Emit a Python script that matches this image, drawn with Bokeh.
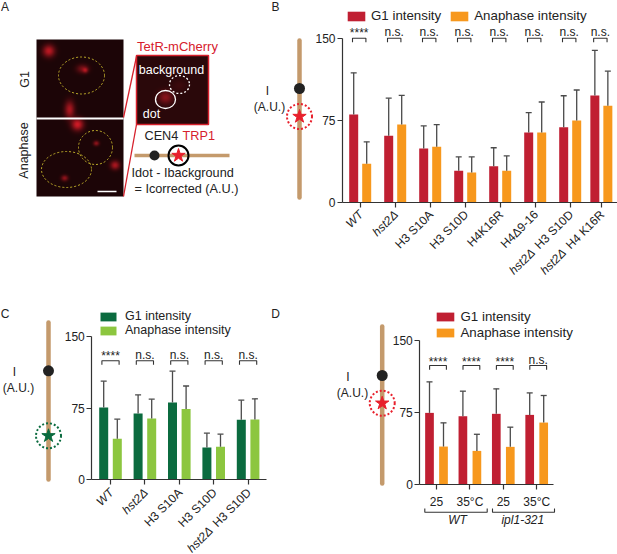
import numpy as np
from bokeh.core.properties import value
from bokeh.embed import file_html
from bokeh.models import FixedTicker, Legend, LegendItem, LinearAxis, Range1d
from bokeh.plotting import figure
from bokeh.resources import INLINE

# ---------- data ----------
b_g1 = [80.5, 61, 49.3, 28.8, 33, 64, 68.9, 98]
b_g1_err = [118.8, 95.5, 70, 41.6, 50, 82.3, 97.7, 139.3]
b_an = [35.2, 71.3, 51, 27.2, 28.8, 64, 75, 88.5]
b_an_err = [55.4, 98, 71.3, 41.6, 42.5, 92, 103, 120.3]
b_sig = ["****", "n.s.", "n.s.", "n.s.", "n.s.", "n.s.", "n.s.", "n.s."]
b_italic = ["WT", "hst2Δ", "", "", "", "", "hst2Δ", "hst2Δ"]
b_roman = ["", "", "H3 S10A", "H3 S10D", "H4K16R", "H4Δ9-16", " H3 S10D", " H4 K16R"]

c_g1 = [75.5, 69.3, 80.7, 33.8, 62.6]
c_g1_err = [103, 88.7, 113.5, 48.7, 83.2]
c_an = [42.8, 64, 74, 34.5, 63]
c_an_err = [63.3, 84.2, 98, 47.7, 84.6]
c_sig = ["****", "n.s.", "n.s.", "n.s.", "n.s."]
c_italic = ["WT", "hst2Δ", "", "", "hst2Δ"]
c_roman = ["", "", "H3 S10A", "H3 S10D", " H3 S10D"]

d_g1 = [74.3, 70.8, 73.3, 72.2]
d_g1_err = [106.6, 96.9, 99.3, 95.1]
d_an = [39.2, 34.7, 38.9, 64.2]
d_an_err = [63.9, 52, 59.4, 92.4]
d_sig = ["****", "****", "****", "n.s."]
d_ticks = ["25", "35°C", "25", "35°C"]
d_groups = ["WT", "ipl1-321"]

y_ticks = [0, 75, 150]
legend_labels = ["G1 intensity", "Anaphase intensity"]

# ---------- style ----------
FONT_NAME = "Liberation Sans"
FONT = value(FONT_NAME)
RED, ORANGE = "#c01f32", "#f7981d"
DGREEN, LGREEN = "#0b6b3f", "#8cc63f"
TAN = "#c49a6c"
INK = "#222222"
ERR = "#4a4a4a"
W, H = 617, 554

p = figure(width=W, height=H, x_range=Range1d(0, W), y_range=Range1d(H, 0),
           x_axis_location=None, y_axis_location=None, tools="",
           toolbar_location=None, output_backend="svg", min_border=0,
           outline_line_color=None, background_fill_color="white")
p.grid.visible = False
p.styles = {"position": "absolute", "left": "0px", "top": "0px"}


def label(x, y, s, size=12, color=INK, align="center", style="normal", angle=0.0):
    p.text([x], [y], text=[s], text_font=FONT, text_font_size=f"{size}px", text_color=color,
           text_align=align, text_baseline="middle", text_font_style=style, angle=angle)


def bar_panel(name, g1, g1e, an, ane, col1, col2, ax_x, y0, y150, x_first, pitch, x_end,
              bar_w, off, positions=None):
    n = len(g1)
    pos = list(range(n)) if positions is None else positions
    sy = (y0 - y150) / 150
    p.extra_y_ranges[name + "y"] = Range1d((y0 - H) / sy, y0 / sy)
    p.extra_x_ranges[name + "x"] = Range1d(-x_first / pitch, (W - x_first) / pitch)
    kw = dict(x_range_name=name + "x", y_range_name=name + "y")
    bw, of = bar_w / pitch, off / pitch
    x1 = [q - of for q in pos]
    x2 = [q + of for q in pos]
    r1 = p.vbar(x1, bw, g1, bottom=0, fill_color=col1, line_color=None, **kw)
    r2 = p.vbar(x2, bw, an, bottom=0, fill_color=col2, line_color=None, **kw)
    for xs, tops, ends in ((x1, g1, g1e), (x2, an, ane)):
        p.segment(xs, tops, xs, ends, line_color=ERR, line_width=1.3, **kw)
        p.scatter(xs, ends, marker="dash", size=6, line_color=ERR, line_width=1.3, **kw)
    ya = LinearAxis(y_range_name=name + "y", fixed_location=ax_x, bounds=(0, 150),
                    ticker=FixedTicker(ticks=y_ticks), major_tick_out=5, major_tick_in=0,
                    major_label_standoff=2, major_label_text_font=FONT_NAME,
                    major_label_text_font_size="12px", major_label_text_color=INK,
                    axis_line_color="#333333", major_tick_line_color="#333333", axis_line_width=1.2,
                    major_tick_line_width=1.2)
    p.add_layout(ya, "left")
    xa = LinearAxis(x_range_name=name + "x", y_range_name=name + "y", fixed_location=0,
                    bounds=((ax_x - x_first) / pitch, (x_end - x_first) / pitch),
                    ticker=FixedTicker(ticks=list(pos)), major_tick_out=5, major_tick_in=0,
                    major_label_text_font=FONT_NAME, major_label_text_font_size="12px",
                    major_label_text_color=INK, major_label_standoff=6,
                    axis_line_color="#333333", major_tick_line_color="#333333", axis_line_width=1.2,
                    major_tick_line_width=1.2)
    p.add_layout(xa, "below")
    return pos, r1, r2, xa, kw


def sig_marks(name, pos, sig, pitch, y_top, y_bot, half, star_y, ns_y, dx=0.0):
    for q, s in zip(pos, sig):
        c = q + dx / pitch
        h = half / pitch
        p.line([c - h, c - h, c + h, c + h], [y_bot, y_top, y_top, y_bot], line_color="#333333",
               line_width=1.1, x_range_name=name + "x")
        p.text([c], [star_y if s == "****" else ns_y], text=[s], text_font=FONT, text_font_size="12px",
               text_color=INK, text_align="center", text_baseline="middle", x_range_name=name + "x")


def rotated_labels(name, pos, italic, roman, y):
    c, s = np.cos(np.pi / 4), np.sin(np.pi / 4)
    for q, it, ro in zip(pos, italic, roman):
        shift = 54 if ro and it else 0
        if ro:
            p.text([q], [y], text=[ro.strip()], text_font=FONT, text_font_size="12px", text_color=INK,
                   text_align="right", text_baseline="middle", angle=np.pi / 4,
                   x_range_name=name + "x", x_offset=1)
        if it:
            p.text([q], [y], text=[it], text_font=FONT, text_font_size="12px", text_color=INK,
                   text_align="right", text_baseline="middle", angle=np.pi / 4, text_font_style="italic",
                   x_range_name=name + "x", x_offset=1 - shift * c, y_offset=shift * s)


def chromosome(x, y1, y2, dot_y, star_y, color, i_x, i_y, au_x, au_y):
    p.line([x, x], [y1, y2], line_color=TAN, line_width=4.5, line_cap="round")
    p.scatter([x], [dot_y], marker="circle", size=11, fill_color=INK, line_color=None)
    p.scatter([x], [star_y], marker="star", size=14, fill_color=color, line_color=color)
    p.ellipse([x], [star_y], width=25, height=25, fill_color=None, line_color=color,
              line_width=2, line_dash="2 2")
    label(i_x, i_y, "I")
    label(au_x, au_y, "(A.U.)")


def add_legend(r1, r2, loc, size, orient, spacing, gw, gh, standoff):
    items = [LegendItem(label=legend_labels[0], renderers=[r1], index=0),
             LegendItem(label=legend_labels[1], renderers=[r2], index=0)]
    lg = Legend(items=items, location=loc, orientation=orient, border_line_color=None,
                background_fill_alpha=0, padding=0, margin=0, spacing=spacing, glyph_width=gw,
                glyph_height=gh, label_standoff=standoff, label_text_font=FONT_NAME,
                label_text_font_size=f"{size}px", label_text_color=INK, label_height=10)
    p.add_layout(lg)


# ---------- panel letters ----------
for s, x, y in (("A", 4.5, 6), ("B", 275, 6), ("C", 4.5, 313), ("D", 275, 313)):
    label(x, y, s)

# ---------- panel A: micrographs ----------
yy, xx = np.mgrid[39:196:157j, 36:123:87j]
g1_blobs_x = [48, 82, 85, 69, 77, 96, 64, 115]
g1_blobs_y = [50, 68, 69.5, 109, 124, 143, 178, 165]
blob_sx = [4.2, 4.2, 1.8, 3.4, 4.2, 2, 2.4, 3.2]
blob_sy = [4.2, 3, 1.8, 6, 4.2, 1.7, 2, 3]
blob_amp = [.8, .45, .5, .72, .9, .6, .6, .72]


def micro(xx, yy, bx, by, sx, sy, amp, bg):
    v = np.zeros_like(xx)
    for a, b, c, d, e in zip(bx, by, sx, sy, amp):
        v += e * np.exp(-((xx - a) ** 2) / (2 * c * c) - ((yy - b) ** 2) / (2 * d * d))
    v = np.clip(v, 0, 1)
    h, w = xx.shape
    img = np.zeros((h, w), dtype=np.uint32)
    rgba = img.view(dtype=np.uint8).reshape((h, w, 4))
    rgba[..., 0] = (bg[0] + v * (228 - bg[0])).astype(np.uint8)
    rgba[..., 1] = (bg[1] + v * 25).astype(np.uint8)
    rgba[..., 2] = (bg[2] + v * 35).astype(np.uint8)
    rgba[..., 3] = 255
    return img


p.image_rgba(image=[micro(xx, yy, g1_blobs_x, g1_blobs_y, blob_sx, blob_sy, blob_amp, (28, 5, 7))],
             x=36, y=39, dw=87, dh=157)
yy2, xx2 = np.mgrid[55:124:69j, 136:208:72j]
p.image_rgba(image=[micro(xx2, yy2, [165, 179], [97, 85], [5, 5], [4.5, 4], [.5, .1], (42, 8, 10))],
             x=136, y=55, dw=72, dh=69)
p.line([36, 123], [118, 118], line_color="white", line_width=2)
p.line([97, 116], [191, 191], line_color="white", line_width=1.5)
p.rect([172], [89.5], width=72, height=69, fill_color=None, line_color="#d6202c", line_width=1.5)
p.line([123, 136], [117, 56], line_color="#d6202c", line_width=1.3)
p.line([123, 136], [196, 124], line_color="#d6202c", line_width=1.3)
p.ellipse([81, 66, 95], [75, 169, 147], width=[46, 50, 34], height=[37, 36, 34], fill_color=None,
          line_color="#bfae2a", line_width=1, line_dash="2 2")
p.ellipse([165], [99], width=20, height=18, fill_color=None, line_color="white", line_width=1.3)
p.ellipse([179], [84], width=20, height=18, fill_color=None, line_color="white", line_width=1.3, line_dash="2 2")
label(177, 46, "TetR-mCherry", size=13, color="#d6202c")
label(171, 69, "background", size=12.5, color="white")
label(151, 113, "dot", size=12.5, color="white")
label(24, 79, "G1", size=12.5, angle=np.pi / 2)
label(23, 150, "Anaphase", size=12.5, angle=np.pi / 2)
label(144, 135, "CEN4", size=12.7, align="left")
label(182, 135, "TRP1", size=12.7, color="#d6202c", align="left")
p.line([134, 229], [155, 155], line_color=TAN, line_width=3.5)
p.scatter([154], [155], marker="circle", size=10, fill_color=INK, line_color=None)
p.scatter([178], [155], marker="star", size=14, fill_color="#e8202c", line_color="#e8202c")
p.scatter([178], [155], marker="circle", size=20, fill_color=None, line_color="black", line_width=2)
label(131, 172, "Idot - Ibackground", size=12.7, align="left")
label(134, 188, "= Icorrected (A.U.)", size=12.7, align="left")

# ---------- panel B ----------
chromosome(299, 40, 197, 88, 116, "#e8202c", 267, 90, 269, 106)
b_pos = [0, 1, 2, 3, 4, 5, 6, 6.89]
pos, r1, r2, xa, kw = bar_panel("b", b_g1, b_g1_err, b_an, b_an_err, RED, ORANGE, 342, 201.7, 38.3,
                                359.7, 35, 617, 9, 6.5, b_pos)
xa.major_label_text_color = None
sig_marks("b", pos, b_sig, 35, 37.7, 41.7, 6.7, 32, 31, dx=-1)
rotated_labels("b", pos, b_italic, b_roman, 212)
add_legend(r1, r2, (345, 531), 13.3, "horizontal", 7, 22, 12, 4)

# ---------- panel C ----------
chromosome(48, 322, 479, 370.3, 435.3, DGREEN, 14, 371.7, 18, 387.7)
pos, r1, r2, xa, kw = bar_panel("c", c_g1, c_g1_err, c_an, c_an_err, DGREEN, LGREEN, 91.3, 479.3, 335.7,
                                110, 34.4, 266, 9, 6.8)
xa.major_label_text_color = None
sig_marks("c", pos, c_sig, 34.4, 360.3, 364.3, 8.6, 355.5, 354.3)
rotated_labels("c", pos, c_italic, c_roman, 490)
add_legend(r1, r2, (98, 217), 12.5, "vertical", 0, 20, 11, 7)

# ---------- panel D ----------
chromosome(381.7, 326, 483, 375, 402.7, "#e8202c", 347.3, 376, 352, 392.7)
pos, r1, r2, xa, kw = bar_panel("d", d_g1, d_g1_err, d_an, d_an_err, RED, ORANGE, 419.3, 483.7, 339.7,
                                436, 33.4, 553.3, 8.7, 7)
xa.major_label_overrides = {i: t for i, t in enumerate(d_ticks)}
sig_marks("d", pos, d_sig, 33.4, 365, 369.3, 8.4, 361, 359, dx=1.5)
add_legend(r1, r2, (433.5, 214), 13.3, "vertical", 1, 22, 11, 5)
for x1, x2 in ((424.3, 486.7), (492, 554)):
    p.line([x1, x1, x2, x2], [508, 511.7, 511.7, 508], line_color="#333333", line_width=1.1)
label(457, 519.3, d_groups[0], style="italic")
label(522.3, 519.3, d_groups[1], style="italic")

open("out.html", "w").write(file_html(p, INLINE))
